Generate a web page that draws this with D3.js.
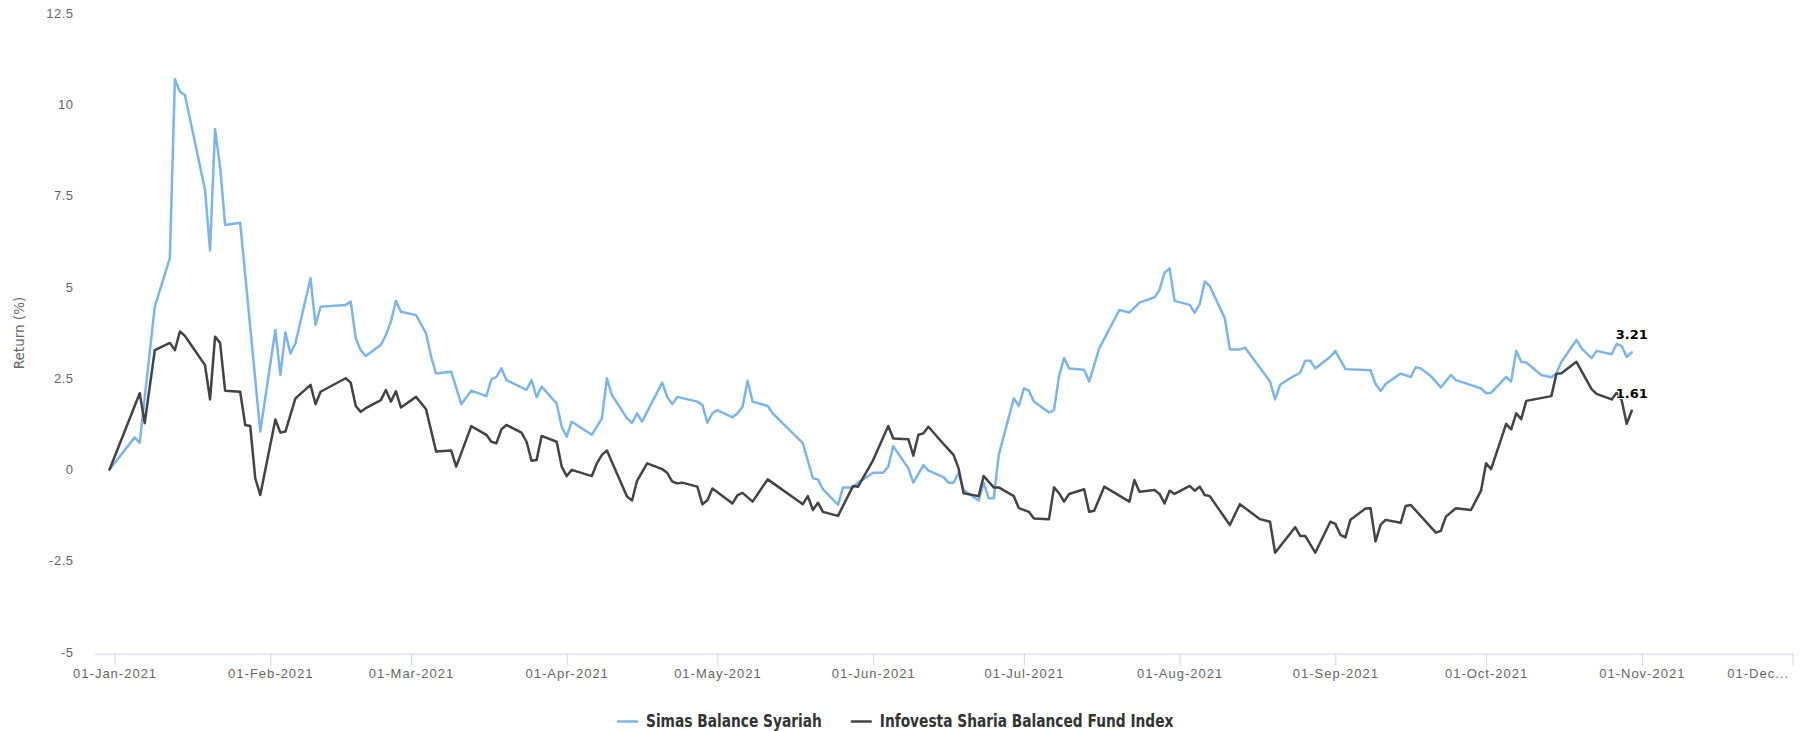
<!DOCTYPE html>
<html>
<head>
<meta charset="utf-8">
<script src="https://cdnjs.cloudflare.com/ajax/libs/d3/7.8.5/d3.min.js"></script>
<style>
  body { margin: 0; background: #fff; }
  svg { display: block; font-family: "DejaVu Sans", Verdana, sans-serif; }
</style>
</head>
<body>
<svg id="chart" width="1802" height="731"></svg>
<script>
// cumulative return (%)
var simasDates = ["2020-12-31","2021-01-05","2021-01-06","2021-01-09","2021-01-12","2021-01-13","2021-01-14","2021-01-15",
  "2021-01-19","2021-01-20","2021-01-21","2021-01-22","2021-01-23","2021-01-26","2021-01-30","2021-02-02","2021-02-03",
  "2021-02-04","2021-02-05","2021-02-06","2021-02-09","2021-02-10","2021-02-11","2021-02-16","2021-02-17","2021-02-18",
  "2021-02-19","2021-02-20","2021-02-23","2021-02-24","2021-02-25","2021-02-26","2021-02-27","2021-03-02","2021-03-04",
  "2021-03-05","2021-03-06","2021-03-09","2021-03-11","2021-03-13","2021-03-16","2021-03-17","2021-03-18","2021-03-19",
  "2021-03-20","2021-03-24","2021-03-25","2021-03-26","2021-03-27","2021-03-30","2021-03-31","2021-04-01","2021-04-02",
  "2021-04-06","2021-04-08","2021-04-09","2021-04-10","2021-04-13","2021-04-14","2021-04-15","2021-04-16","2021-04-20",
  "2021-04-21","2021-04-22","2021-04-23","2021-04-27","2021-04-28","2021-04-29","2021-04-30","2021-05-01","2021-05-04",
  "2021-05-05","2021-05-06","2021-05-07","2021-05-08","2021-05-11","2021-05-12","2021-05-18","2021-05-20","2021-05-21",
  "2021-05-22","2021-05-25","2021-05-26","2021-05-28","2021-05-29","2021-06-01","2021-06-03","2021-06-04","2021-06-05",
  "2021-06-08","2021-06-09","2021-06-11","2021-06-12","2021-06-15","2021-06-16","2021-06-17","2021-06-18","2021-06-19",
  "2021-06-22","2021-06-23","2021-06-24","2021-06-25","2021-06-26","2021-06-29","2021-06-30","2021-07-01","2021-07-02",
  "2021-07-03","2021-07-06","2021-07-07","2021-07-08","2021-07-09","2021-07-10","2021-07-13","2021-07-14","2021-07-16",
  "2021-07-20","2021-07-22","2021-07-24","2021-07-27","2021-07-28","2021-07-29","2021-07-30","2021-07-31","2021-08-03",
  "2021-08-04","2021-08-05","2021-08-06","2021-08-07","2021-08-10","2021-08-11","2021-08-13","2021-08-14","2021-08-19",
  "2021-08-20","2021-08-21","2021-08-23","2021-08-25","2021-08-26","2021-08-27","2021-08-28","2021-08-31","2021-09-01",
  "2021-09-03","2021-09-08","2021-09-09","2021-09-10","2021-09-11","2021-09-14","2021-09-16","2021-09-17","2021-09-18",
  "2021-09-20","2021-09-22","2021-09-24","2021-09-25","2021-09-27","2021-09-30","2021-10-01","2021-10-02","2021-10-05",
  "2021-10-06","2021-10-07","2021-10-08","2021-10-09","2021-10-12","2021-10-14","2021-10-15","2021-10-16","2021-10-19",
  "2021-10-20","2021-10-22","2021-10-23","2021-10-26","2021-10-27","2021-10-28","2021-10-29","2021-10-30"];
var simasReturn = [0,0.88,0.73,4.46,5.79,10.69,10.35,10.26,
  7.66,6.01,9.32,8.30,6.70,6.76,1.04,3.82,2.59,
  3.75,3.18,3.46,5.24,3.96,4.46,4.51,4.60,3.59,
  3.27,3.11,3.41,3.68,4.05,4.62,4.32,4.23,3.73,
  3.09,2.63,2.68,1.79,2.16,2.01,2.47,2.54,2.77,
  2.45,2.18,2.45,1.98,2.27,1.81,1.17,0.90,1.31,
  0.95,1.40,2.50,2.04,1.40,1.27,1.54,1.31,2.38,
  1.99,1.79,1.99,1.86,1.77,1.28,1.54,1.63,1.43,
  1.54,1.72,2.43,1.86,1.74,1.54,0.72,-0.24,-0.27,
  -0.54,-0.97,-0.49,-0.49,-0.36,-0.09,-0.09,0.08,0.64,
  0.03,-0.36,0.12,-0.03,-0.21,-0.36,-0.36,-0.10,-0.56,
  -0.85,-0.36,-0.79,-0.79,0.40,1.95,1.74,2.22,2.16,
  1.86,1.56,1.63,2.56,3.05,2.77,2.73,2.41,3.32,
  4.37,4.30,4.57,4.72,4.92,5.39,5.51,4.62,4.51,
  4.30,4.53,5.15,5.03,4.14,3.29,3.29,3.34,2.41,
  1.92,2.32,2.50,2.65,2.98,2.98,2.77,3.09,3.25,
  2.75,2.72,2.34,2.15,2.34,2.63,2.53,2.80,2.77,
  2.56,2.25,2.59,2.45,2.36,2.22,2.09,2.10,2.54,
  2.41,3.25,2.95,2.93,2.59,2.53,2.64,2.95,3.55,
  3.32,3.05,3.25,3.16,3.44,3.38,3.09,3.21];

var infovestaDates = ["2020-12-31","2021-01-06","2021-01-07","2021-01-09","2021-01-12","2021-01-13","2021-01-14","2021-01-15",
  "2021-01-16","2021-01-19","2021-01-20","2021-01-21","2021-01-22","2021-01-23","2021-01-26","2021-01-27","2021-01-28",
  "2021-01-29","2021-01-30","2021-02-02","2021-02-03","2021-02-04","2021-02-06","2021-02-09","2021-02-10","2021-02-11",
  "2021-02-16","2021-02-17","2021-02-18","2021-02-19","2021-02-20","2021-02-23","2021-02-24","2021-02-25","2021-02-26",
  "2021-02-27","2021-03-02","2021-03-04","2021-03-06","2021-03-09","2021-03-10","2021-03-13","2021-03-16","2021-03-17",
  "2021-03-18","2021-03-19","2021-03-20","2021-03-23","2021-03-24","2021-03-25","2021-03-26","2021-03-27","2021-03-30",
  "2021-03-31","2021-04-01","2021-04-02","2021-04-06","2021-04-07","2021-04-08","2021-04-09","2021-04-13","2021-04-14",
  "2021-04-15","2021-04-17","2021-04-20","2021-04-21","2021-04-22","2021-04-23","2021-04-24","2021-04-27","2021-04-28",
  "2021-04-29","2021-04-30","2021-05-04","2021-05-05","2021-05-06","2021-05-08","2021-05-11","2021-05-18","2021-05-19",
  "2021-05-20","2021-05-21","2021-05-22","2021-05-25","2021-05-28","2021-05-29","2021-06-01","2021-06-04","2021-06-05",
  "2021-06-08","2021-06-09","2021-06-10","2021-06-11","2021-06-12","2021-06-15","2021-06-16","2021-06-17","2021-06-18",
  "2021-06-19","2021-06-22","2021-06-23","2021-06-25","2021-06-26","2021-06-29","2021-06-30","2021-07-02","2021-07-03",
  "2021-07-06","2021-07-07","2021-07-08","2021-07-09","2021-07-10","2021-07-13","2021-07-14","2021-07-15","2021-07-17",
  "2021-07-22","2021-07-23","2021-07-24","2021-07-27","2021-07-28","2021-07-29","2021-07-30","2021-07-31","2021-08-03",
  "2021-08-04","2021-08-05","2021-08-06","2021-08-07","2021-08-11","2021-08-13","2021-08-17","2021-08-19","2021-08-20",
  "2021-08-24","2021-08-25","2021-08-26","2021-08-28","2021-08-31","2021-09-01","2021-09-02","2021-09-03","2021-09-04",
  "2021-09-07","2021-09-08","2021-09-09","2021-09-10","2021-09-11","2021-09-14","2021-09-15","2021-09-16","2021-09-21",
  "2021-09-22","2021-09-23","2021-09-25","2021-09-28","2021-09-30","2021-10-01","2021-10-02","2021-10-05","2021-10-06",
  "2021-10-07","2021-10-08","2021-10-09","2021-10-14","2021-10-15","2021-10-16","2021-10-19","2021-10-22","2021-10-23",
  "2021-10-26","2021-10-27","2021-10-28","2021-10-29","2021-10-30"];
var infovestaReturn = [0,2.09,1.27,3.27,3.47,3.27,3.78,3.66,
  3.46,2.86,1.92,3.64,3.47,2.16,2.13,1.22,1.19,
  -0.24,-0.70,1.37,1.01,1.04,1.95,2.32,1.79,2.13,
  2.50,2.38,1.74,1.58,1.68,1.90,2.18,1.86,2.14,
  1.70,1.99,1.65,0.49,0.52,0.08,1.19,0.95,0.76,
  0.72,1.10,1.22,1.01,0.76,0.24,0.26,0.92,0.76,
  0.08,-0.18,-0.01,-0.18,0.17,0.40,0.52,-0.74,-0.85,
  -0.31,0.17,0.01,-0.09,-0.33,-0.38,-0.36,-0.47,-0.95,
  -0.84,-0.52,-0.93,-0.70,-0.64,-0.88,-0.27,-0.95,-0.73,
  -1.11,-0.91,-1.16,-1.27,-0.45,-0.47,0.26,1.19,0.85,
  0.83,0.38,0.95,0.99,1.17,0.70,0.55,0.40,0.03,
  -0.65,-0.73,-0.18,-0.49,-0.49,-0.73,-1.06,-1.16,-1.34,
  -1.36,-0.49,-0.65,-0.88,-0.67,-0.54,-1.16,-1.13,-0.47,
  -0.88,-0.29,-0.61,-0.56,-0.67,-0.93,-0.58,-0.67,-0.45,
  -0.58,-0.47,-0.70,-0.73,-1.52,-0.95,-1.36,-1.43,-2.28,
  -1.58,-1.82,-1.82,-2.28,-1.43,-1.49,-1.79,-1.86,-1.38,
  -1.07,-1.06,-1.97,-1.52,-1.38,-1.46,-1.00,-0.97,-1.73,
  -1.68,-1.29,-1.06,-1.11,-0.58,0.17,0.01,1.25,1.10,
  1.54,1.38,1.88,2.01,2.62,2.64,2.95,2.20,2.07,
  1.92,2.10,1.90,1.25,1.61];

var seriesNames = ["Simas Balance Syariah", "Infovesta Sharia Balanced Fund Index"];
var seriesColors = ["#7cb5ec", "#434348"];
var monthTicks = ["2021-01-01","2021-02-01","2021-03-01","2021-04-01","2021-05-01","2021-06-01",
  "2021-07-01","2021-08-01","2021-09-01","2021-10-01","2021-11-01","2021-12-01"];
var monthLabels = ["01-Jan-2021","01-Feb-2021","01-Mar-2021","01-Apr-2021","01-May-2021","01-Jun-2021",
  "01-Jul-2021","01-Aug-2021","01-Sep-2021","01-Oct-2021","01-Nov-2021","01-Dec..."];
var yTicks = [-5, -2.5, 0, 2.5, 5, 7.5, 10, 12.5];

var parse = d3.timeParse("%Y-%m-%d");
var svg = d3.select("#chart");

var x = d3.scaleTime()
  .domain([parse("2020-12-28"), parse("2021-12-01")])
  .range([94.5, 1792.5]);
var y = d3.scaleLinear().domain([-5, 12.5]).range([652, 13.25]);

// y axis: labels only
var yAxis = svg.append("g").attr("transform", "translate(94.5,0)")
  .call(d3.axisLeft(y).tickValues(yTicks).tickSize(0).tickPadding(21).tickFormat(function(d){ return String(d); }));
yAxis.select(".domain").remove();
yAxis.selectAll("text").attr("fill", "#666").style("font-size", "13px").style("letter-spacing", "0.5px");

svg.append("text")
  .attr("transform", "translate(24,333) rotate(-90)")
  .attr("text-anchor", "middle")
  .attr("fill", "#666")
  .style("font-size", "13.5px")
  .text("Return (%)");

// x axis
var xAxis = svg.append("g").attr("transform", "translate(0,653.5)")
  .call(d3.axisBottom(x).tickValues(monthTicks.map(parse)).tickSize(12).tickSizeOuter(0)
    .tickFormat(function(d, i){ return monthLabels[i]; }));
xAxis.select(".domain").attr("stroke", "#ccd6eb");
xAxis.selectAll(".tick line").attr("stroke", "#ccd6eb");
xAxis.selectAll("text")
  .attr("y", 24.5).attr("dy", 0)
  .attr("fill", "#666")
  .style("font-size", "13px").style("letter-spacing", "1px");
xAxis.selectAll(".tick").filter(function(d, i){ return i === monthTicks.length - 1; })
  .select("text").attr("text-anchor", "end").attr("x", -4);

// lines
var series = [
  { dates: simasDates, values: simasReturn },
  { dates: infovestaDates, values: infovestaReturn }
];
var line = d3.line()
  .x(function(d){ return x(d[0]); })
  .y(function(d){ return y(d[1]); });

series.forEach(function(s, k){
  var pts = s.dates.map(function(d, i){ return [parse(d), s.values[i]]; });
  svg.append("path")
    .datum(pts)
    .attr("fill", "none")
    .attr("stroke", seriesColors[k])
    .attr("stroke-width", 2.5)
    .attr("stroke-linejoin", "round")
    .attr("stroke-linecap", "round")
    .attr("d", line);
});

// last value labels
series.forEach(function(s){
  var n = s.values.length - 1;
  svg.append("text")
    .attr("x", x(parse(s.dates[n])))
    .attr("y", y(s.values[n]) - 13)
    .attr("text-anchor", "middle")
    .attr("fill", "#000")
    .attr("stroke", "#fff")
    .attr("stroke-width", 2)
    .attr("stroke-linejoin", "round")
    .attr("paint-order", "stroke")
    .style("font-size", "13px")
    .style("font-weight", "bold")
    .text(s.values[n].toFixed(2));
});

// legend (condensed bold face, squeezed horizontally)
var legendStretch = 0.81;
var legend = svg.append("g").attr("transform", "translate(0,721.5)");
var lx = 617;
seriesNames.forEach(function(name, k){
  legend.append("line")
    .attr("x1", lx).attr("x2", lx + 21)
    .attr("stroke", seriesColors[k]).attr("stroke-width", 2.5);
  var t = legend.append("text")
    .attr("transform", "translate(" + (lx + 29) + ",5) scale(" + legendStretch + ",1)")
    .attr("fill", "#333")
    .style("font-size", "17px")
    .style("font-weight", "bold")
    .text(name);
  lx += 29 + t.node().getComputedTextLength() * legendStretch + 29;
});
</script>
</body>
</html>
